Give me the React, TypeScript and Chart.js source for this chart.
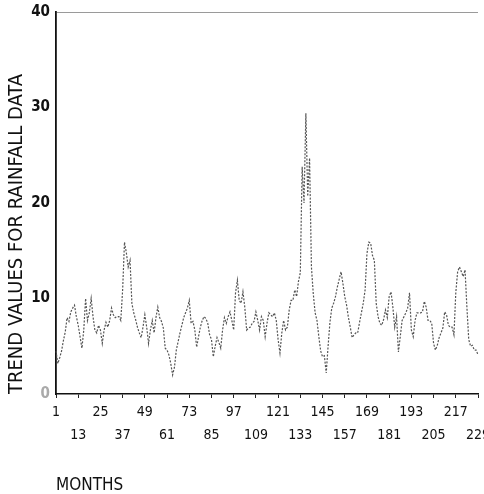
import React, { useEffect, useRef } from "react";
import { Chart, registerables } from "chart.js";

Chart.register(...registerables);

const months: string[] = Array.from({ length: 229 }, (_, i) => String(i + 1));

const trendValues: number[] = [
  4.5, 3.2, 3.8, 4.5, 5.6, 6.5, 8.0, 7.6, 8.6, 9.0,
  9.3, 8.1, 7.2, 6.0, 4.8, 6.7, 10.0, 7.7, 8.5, 10.0,
  8.1, 6.7, 6.4, 7.2, 6.7, 5.3, 6.7, 7.5, 7.0, 7.7,
  9.0, 8.3, 8.0, 8.1, 8.1, 7.7, 10.9, 15.9, 14.8, 13.3,
  14.0, 9.5, 8.5, 7.8, 7.0, 6.4, 5.9, 7.0, 8.3, 7.0,
  5.3, 6.7, 7.7, 6.4, 8.0, 9.1, 8.0, 7.6, 6.9, 4.8,
  4.6, 4.1, 3.2, 2.0, 2.8, 4.6, 5.5, 6.4, 7.2, 8.0,
  8.5, 9.0, 9.8, 7.4, 7.6, 6.7, 4.9, 6.0, 7.0, 7.7,
  8.1, 7.9, 7.4, 6.2, 5.7, 3.9, 5.0, 5.9, 5.4, 4.8,
  6.7, 8.0, 7.4, 8.1, 8.6, 7.7, 6.7, 10.6, 11.9, 9.8,
  9.5, 10.7, 9.1, 6.7, 6.9, 7.0, 7.4, 7.6, 8.6, 7.7,
  6.7, 8.1, 7.7, 6.0, 7.4, 8.5, 8.3, 8.1, 8.5, 7.7,
  5.7, 4.3, 6.4, 7.7, 6.7, 7.0, 8.8, 9.8, 9.8, 10.9,
  10.2, 11.8, 12.7, 23.8, 20.0, 29.4, 20.7, 24.7, 13.3, 10.5,
  8.5, 7.7, 6.0, 4.5, 3.9, 4.0, 2.2, 5.0, 7.5, 9.0,
  9.5, 10.2, 11.2, 12.0, 12.8, 11.6, 10.2, 9.3, 8.0, 7.0,
  5.9, 6.2, 6.4, 6.4, 7.5, 8.5, 9.5, 10.9, 14.7, 15.9,
  15.8, 14.5, 14.0, 9.5, 8.1, 7.4, 7.2, 7.8, 8.8, 8.0,
  10.2, 10.7, 9.1, 7.0, 8.1, 4.4, 6.0, 7.7, 8.1, 8.5,
  9.0, 10.6, 6.7, 6.0, 7.7, 8.5, 8.5, 8.5, 8.6, 9.7,
  9.1, 7.7, 7.7, 7.4, 5.3, 4.6, 5.1, 5.9, 6.4, 6.9,
  8.6, 8.3, 7.2, 7.0, 7.0, 6.2, 10.6, 12.8, 13.3, 12.8,
  12.3, 13.0, 9.1, 5.7, 5.0, 5.1, 4.6, 4.6, 4.1,
];

const yTicks: number[] = [0, 10, 20, 30, 40];

const FONT = "'Liberation Sans Narrow', 'DejaVu Sans Condensed', 'Liberation Sans', Arial, sans-serif";

export default function App() {
  const ref = useRef<HTMLCanvasElement | null>(null);

  useEffect(() => {
    if (!ref.current) return;
    const chart = new Chart(ref.current, {
      type: "line",
      data: {
        labels: months,
        datasets: [
          {
            data: trendValues,
            borderColor: "#555555",
            borderWidth: 1.2,
            borderDash: [2, 1.5],
            pointRadius: 0,
            tension: 0,
            fill: false,
          },
        ],
      },
      options: {
        responsive: false,
        animation: false,
        layout: { padding: { left: 0, right: 6, top: 12, bottom: 0 } },
        plugins: { legend: { display: false }, tooltip: { enabled: false } },
        scales: {
          x: {
            type: "category",
            offset: false,
            afterFit: (s: any) => {
              s.height = 100;
              s.paddingLeft = 0;
              s.paddingRight = 0;
            },
            grid: {
              color: (ctx: any) => (ctx.index === 228 ? "#9a9a9a" : "rgba(0,0,0,0)"),
              lineWidth: 1,
              drawTicks: true,
              tickLength: 4,
              tickColor: "#222",
            },
            border: { display: true, color: "#111", width: 1.5 },
            ticks: {
              autoSkip: false,
              maxRotation: 0,
              minRotation: 0,
              padding: 2,
              color: "#111",
              font: { family: FONT, size: 14, lineHeight: 1.7 },
              callback: (_v: any, idx: number) => {
                if (idx % 12 !== 0) return null;
                const lab = months[idx];
                return (idx / 12) % 2 === 0 ? lab : ["", lab];
              },
            },
            title: {
              display: true,
              text: "MONTHS",
              align: "start",
              color: "#111",
              padding: { top: 0, bottom: 0 },
              font: { family: FONT, size: 17, lineHeight: 1.0 },
            },
          },
          y: {
            min: 0,
            max: 40,
            afterFit: (s: any) => {
              s.width = 56;
              s.paddingTop = 0;
              s.paddingBottom = 0;
            },
            afterBuildTicks: (s: any) => {
              s.ticks = yTicks.map((v) => ({ value: v }));
            },
            grid: {
              color: (ctx: any) => (ctx.tick && ctx.tick.value === 40 ? "#9a9a9a" : "rgba(0,0,0,0)"),
              drawTicks: false,
              lineWidth: 1,
            },
            border: { display: true, color: "#111", width: 1.8 },
            ticks: {
              padding: 6,
              color: (ctx: any) => (ctx.tick && ctx.tick.value === 0 ? "#aaa" : "#111"),
              font: { family: FONT, size: 15, weight: "bold" },
            },
            title: {
              display: true,
              text: "TREND VALUES FOR RAINFALL DATA",
              align: "start",
              color: "#111",
              padding: { top: 5, bottom: 0 },
              font: { family: FONT, size: 20 },
            },
          },
        },
      },
    });
    return () => chart.destroy();
  }, []);

  return (
    <div style={{ position: "fixed", left: 0, top: 0, width: 484, height: 494, background: "#fff" }}>
      <canvas ref={ref} width={484} height={494} style={{ width: 484, height: 494 }} />
    </div>
  );
}
